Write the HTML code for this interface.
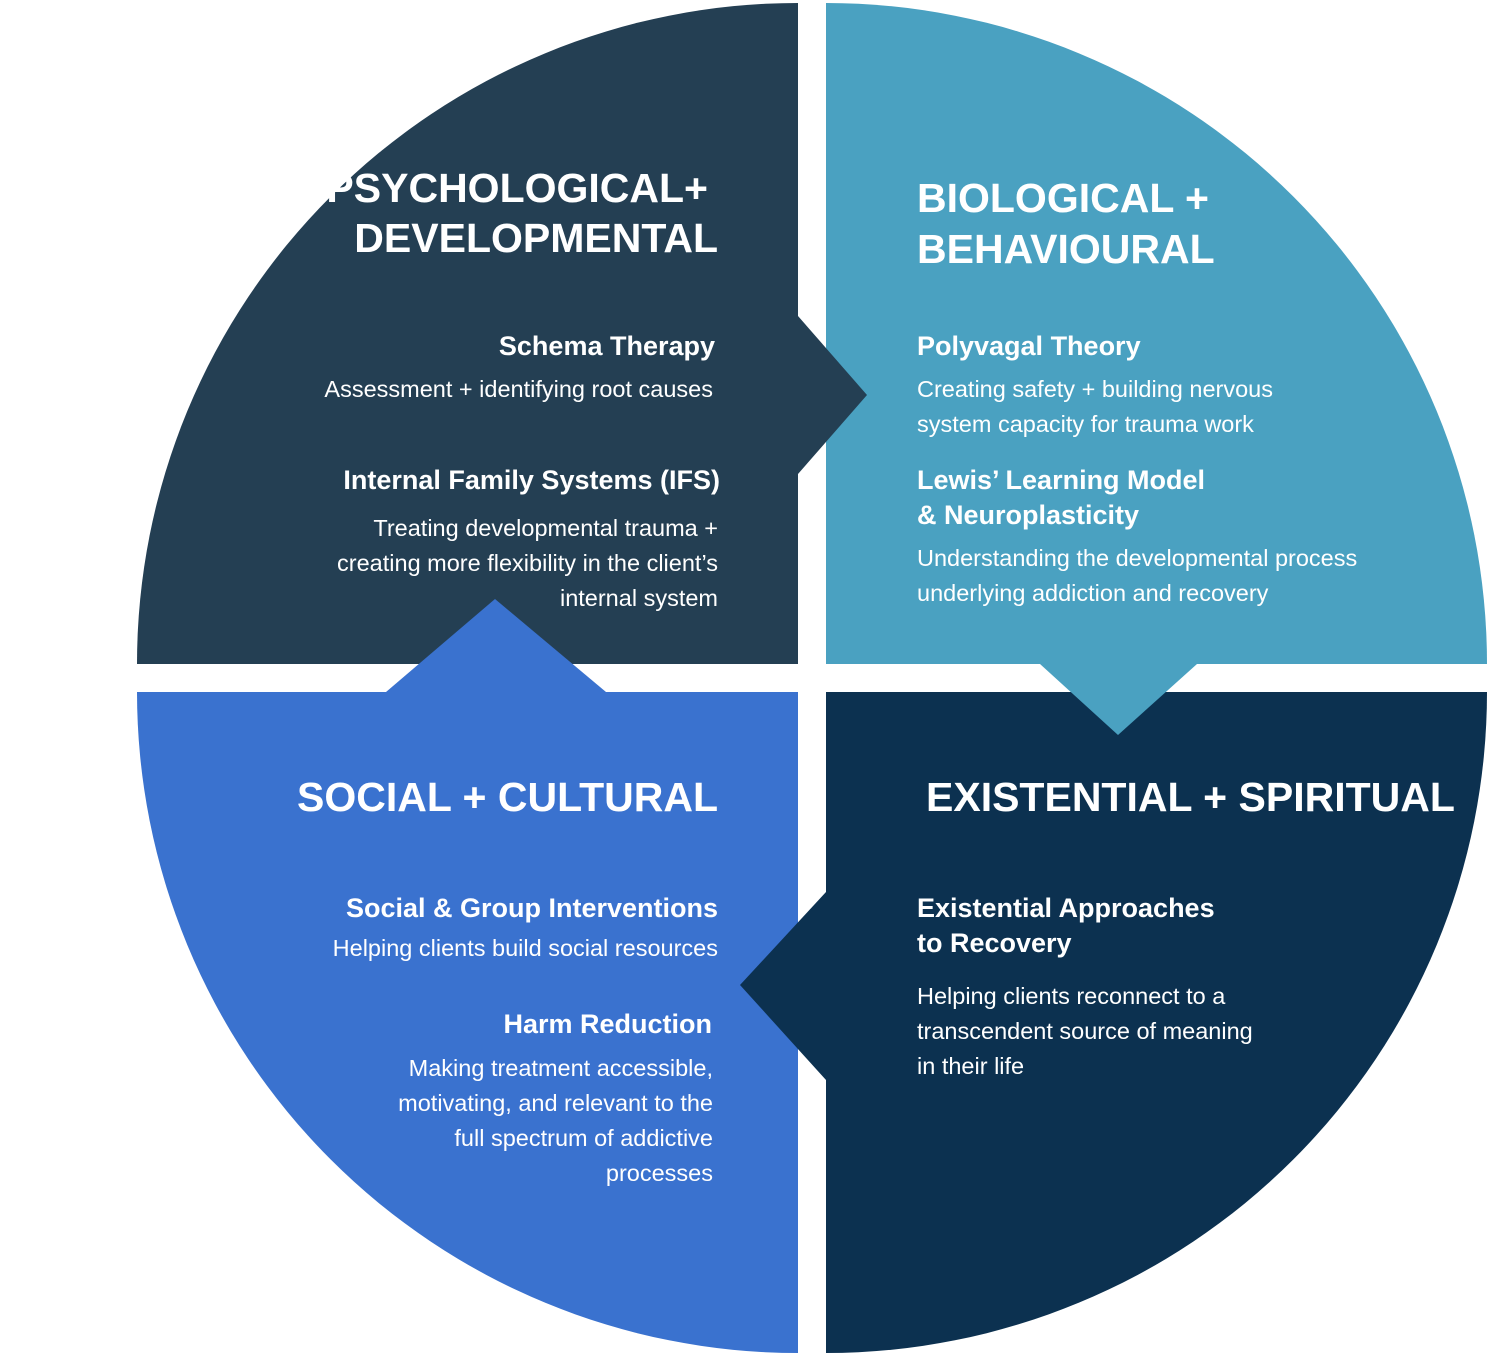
<!DOCTYPE html>
<html><head><meta charset="utf-8"><style>
html,body{margin:0;padding:0;background:#fff}
svg{display:block}
.h{font-family:"Liberation Sans Narrow","Liberation Sans",sans-serif;font-weight:bold;font-size:41px;fill:#fff}
.s{font-family:"Liberation Sans",sans-serif;font-weight:bold;font-size:27px;fill:#fff}
.b{font-family:"Liberation Sans",sans-serif;font-size:23.5px;fill:#fff}
</style></head><body>
<svg width="1496" height="1356" viewBox="0 0 1496 1356" xmlns="http://www.w3.org/2000/svg">
<!-- quadrants -->
<path d="M798,664 L137,664 A661,661 0 0 1 798,3 Z" fill="#243f53"/>
<path d="M826,664 L826,3 A661,661 0 0 1 1487,664 Z" fill="#4aa1c1"/>
<path d="M826,692 L1487,692 A661,661 0 0 1 826,1353 Z" fill="#0c3150"/>
<path d="M798,692 L798,1353 A661,661 0 0 1 137,692 Z" fill="#3a72cf"/>
<!-- arrows -->
<polygon points="798,316 867,395 798,474" fill="#243f53"/>
<polygon points="1040,664 1118,735 1197,664" fill="#4aa1c1"/>
<polygon points="826,892 740,985 826,1080" fill="#0c3150"/>
<polygon points="386,692 495,599 606,692" fill="#3a72cf"/>

<!-- TL -->
<text class="h" x="708" y="202" text-anchor="end">PSYCHOLOGICAL+</text>
<text class="h" x="718" y="252" text-anchor="end">DEVELOPMENTAL</text>
<text class="s" x="715" y="355" text-anchor="end">Schema Therapy</text>
<text class="b" x="713" y="397" text-anchor="end">Assessment + identifying root causes</text>
<text class="s" x="720" y="489" text-anchor="end">Internal Family Systems (IFS)</text>
<text class="b" x="718" y="536" text-anchor="end">Treating developmental trauma +</text>
<text class="b" x="718" y="571" text-anchor="end">creating more flexibility in the client’s</text>
<text class="b" x="718" y="606" text-anchor="end">internal system</text>

<!-- TR -->
<text class="h" x="917" y="212">BIOLOGICAL +</text>
<text class="h" x="917" y="263">BEHAVIOURAL</text>
<text class="s" x="917" y="355">Polyvagal Theory</text>
<text class="b" x="917" y="397">Creating safety + building nervous</text>
<text class="b" x="917" y="432">system capacity for trauma work</text>
<text class="s" x="917" y="489">Lewis’ Learning Model</text>
<text class="s" x="917" y="524">&amp; Neuroplasticity</text>
<text class="b" x="917" y="566">Understanding the developmental process</text>
<text class="b" x="917" y="601">underlying addiction and recovery</text>

<!-- BL -->
<text class="h" x="718" y="811" text-anchor="end">SOCIAL + CULTURAL</text>
<text class="s" x="718" y="917" text-anchor="end">Social &amp; Group Interventions</text>
<text class="b" x="718" y="956" text-anchor="end">Helping clients build social resources</text>
<text class="s" x="712" y="1033" text-anchor="end">Harm Reduction</text>
<text class="b" x="713" y="1076" text-anchor="end">Making treatment accessible,</text>
<text class="b" x="713" y="1111" text-anchor="end">motivating, and relevant to the</text>
<text class="b" x="713" y="1146" text-anchor="end">full spectrum of addictive</text>
<text class="b" x="713" y="1181" text-anchor="end">processes</text>

<!-- BR -->
<text class="h" x="926" y="811">EXISTENTIAL + SPIRITUAL</text>
<text class="s" x="917" y="917">Existential Approaches</text>
<text class="s" x="917" y="952">to Recovery</text>
<text class="b" x="917" y="1004">Helping clients reconnect to a</text>
<text class="b" x="917" y="1039">transcendent source of meaning</text>
<text class="b" x="917" y="1074">in their life</text>
</svg>
</body></html>
